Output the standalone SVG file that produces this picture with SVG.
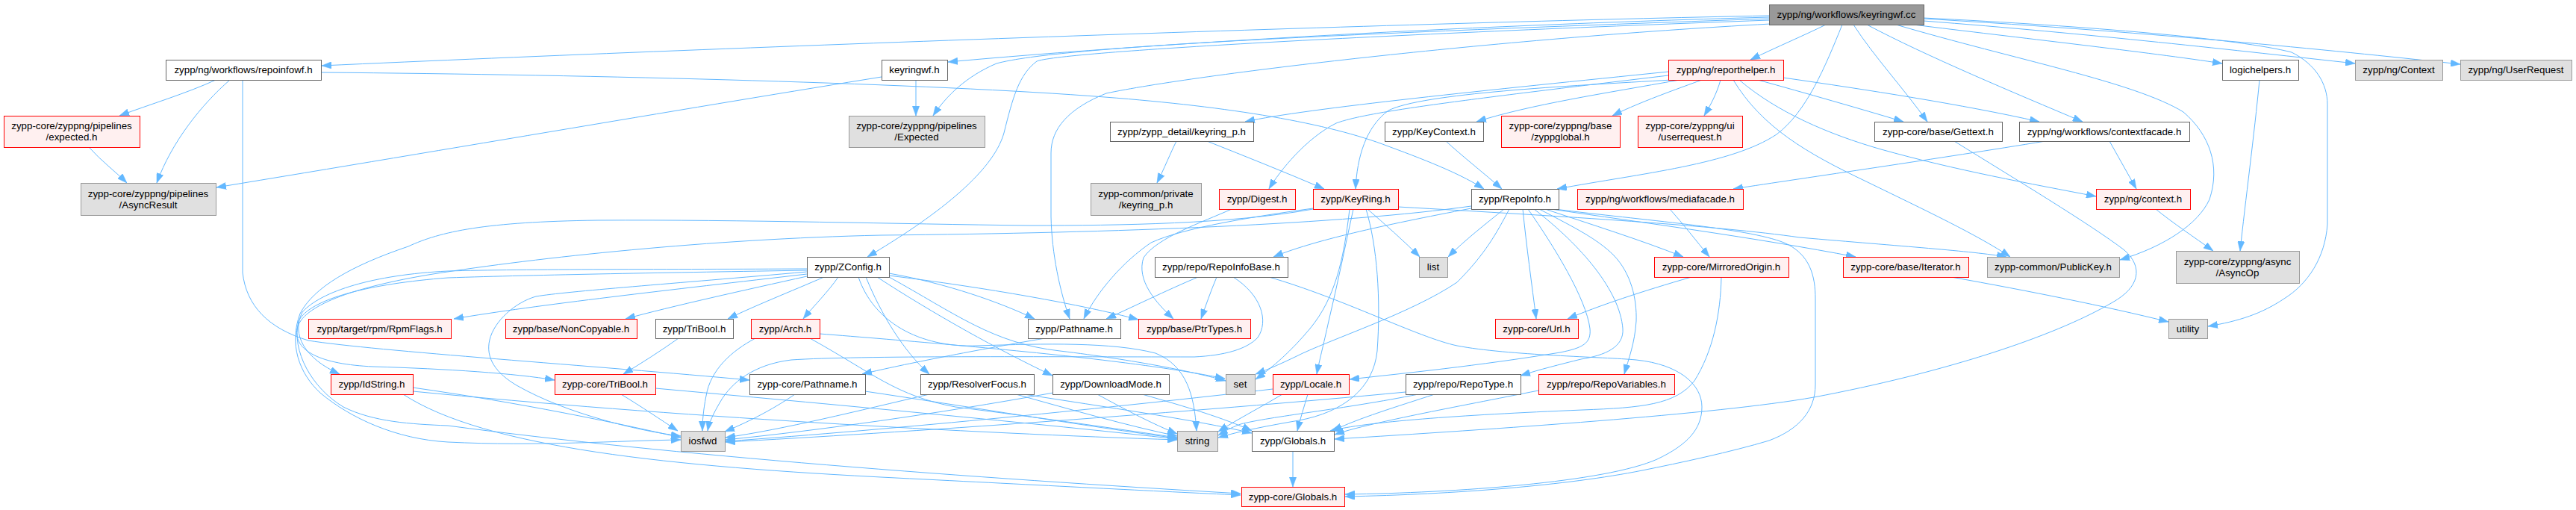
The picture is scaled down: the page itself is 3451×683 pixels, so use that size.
<svg xmlns="http://www.w3.org/2000/svg" width="3451" height="683" viewBox="0 0 3451 683">
<style>
.bg{fill:#ffffff}
.node rect{stroke-width:1}
.n rect{fill:#ffffff;stroke:#666666}
.r rect{fill:#fff0f0;stroke:#ff0000}
.g rect{fill:#e0e0e0;stroke:#999999}
.root rect{fill:#999999;stroke:#666666}
.node text{font-family:"Liberation Sans",Arial,Helvetica,sans-serif;font-size:13.33px;fill:#000000;text-anchor:middle}
#edges path{fill:none;stroke:#63b8ff;stroke-width:1;marker-end:url(#ah)}
</style>
<defs>
<marker id="ah" viewBox="0 0 13 9.4" refX="13" refY="4.7" markerWidth="13" markerHeight="9.4" markerUnits="userSpaceOnUse" orient="auto">
<path d="M0,0 L13,4.7 L0,9.4 z" fill="#63b8ff" stroke="#63b8ff" stroke-width="0.5"/>
</marker>
</defs>
<rect class="bg" x="0" y="0" width="3451" height="683"/>
<g id="edges">
<path d="M2370,21 C1900,30 1000,62 431,88"/>
<path d="M2370,23 C1900,36 1500,62 1270,83"/>
<path d="M2370,25 C1800,45 1420,62 1335,85 C1295,102 1268,128 1250,155"/>
<path d="M2370,27 C1800,48 1420,70 1389,82 C1365,100 1357,130 1345,178 C1330,232 1250,292 1162,344"/>
<path d="M2372,32 C2000,52 1600,100 1482,125 C1432,145 1408,172 1408,205 L1408,290 C1409,340 1420,390 1433,427"/>
<path d="M2446,33 C2420,46 2380,63 2345,80"/>
<path d="M2468,33 C2445,90 2420,150 2380,180 C2320,220 2200,232 2086,253"/>
<path d="M2483,33 C2510,75 2550,118 2582,163"/>
<path d="M2501,33 C2580,75 2700,125 2790,163"/>
<path d="M2563,33 C2700,50 2880,70 2977,85"/>
<path d="M2577,28 C2800,45 3000,68 3155,85"/>
<path d="M2577,25 C2900,44 3150,70 3296,86"/>
<path d="M2577,24 C2800,35 3000,52 3070,70 C3102,86 3118,112 3118,140 L3118,300 C3115,345 3092,380 3060,400 C3030,420 3000,430 2958,437"/>
<path d="M2540,33 C2700,80 2860,110 2925,150 C2960,180 2975,222 2960,267 C2945,300 2900,330 2840,348"/>
<path d="M289,107 C250,125 200,140 160,155"/>
<path d="M308,107 C270,140 230,190 210,245"/>
<path d="M430,97 C800,100 1250,112 1480,130 C1650,143 1780,165 1860,196 C1920,218 1960,235 1988,253"/>
<path d="M325,107 L325,365 C330,410 360,440 413,456 C500,470 800,490 1004,509"/>
<path d="M120,198 C135,215 155,230 170,245"/>
<path d="M1227,107 L1227,155"/>
<path d="M1181,103 C950,140 600,200 290,251"/>
<path d="M2235,96 C2000,120 1750,145 1668,163"/>
<path d="M2240,107 C2100,115 1905,125 1860,148 C1830,170 1818,210 1816,253"/>
<path d="M2235,101 C1950,135 1830,150 1790,165 C1750,185 1715,228 1700,253"/>
<path d="M2250,107 C2150,125 2050,140 1978,163"/>
<path d="M2280,107 C2230,125 2190,140 2160,155"/>
<path d="M2305,107 C2300,125 2292,140 2283,155"/>
<path d="M2355,107 C2420,125 2490,145 2550,163"/>
<path d="M2389,104 C2500,120 2630,140 2732,163"/>
<path d="M2330,107 C2380,150 2450,180 2520,200 C2620,228 2720,246 2808,263"/>
<path d="M2322,107 C2360,170 2420,205 2500,243 C2580,282 2650,315 2693,344"/>
<path d="M1576,189 C1568,205 1560,225 1550,245"/>
<path d="M1617,189 C1670,210 1720,230 1774,253"/>
<path d="M1937,189 C1960,210 1988,232 2012,253"/>
<path d="M2740,189 C2600,212 2420,238 2322,253"/>
<path d="M2826,189 C2838,210 2850,232 2862,253"/>
<path d="M2888,280 C2910,298 2940,318 2965,336"/>
<path d="M3027,107 C3020,180 3008,270 3001,336"/>
<path d="M2618,189 C2700,240 2800,300 2846,335 C2872,358 2866,385 2830,405 C2750,452 2600,500 2430,532 C2300,555 2000,575 1788,588"/>
<path d="M2237,280 C2255,300 2272,322 2290,344"/>
<path d="M1650,280 C1610,298 1550,318 1532,345 C1522,375 1548,405 1572,427"/>
<path d="M1832,280 C1855,300 1880,322 1902,344"/>
<path d="M1813,280 C1802,330 1792,380 1780,430 C1773,462 1767,485 1764,501"/>
<path d="M1808,280 C1800,350 1788,400 1755,440 C1730,470 1705,492 1682,508"/>
<path d="M1830,280 C1845,330 1850,400 1845,470 C1840,520 1800,552 1740,563 C1700,570 1662,577 1632,586"/>
<path d="M1759,279 C1680,290 1585,305 1542,325 C1505,350 1470,390 1452,427"/>
<path d="M1873,277 C2100,290 2300,302 2411,318 C2550,330 2640,336 2688,344"/>
<path d="M1759,280 C1650,300 1500,302 1380,302 C1200,300 1000,294 800,295 C650,297 590,310 547,330 C470,356 420,385 402,420 C387,460 400,500 430,527 C470,560 530,588 600,592 C720,598 830,590 912,589"/>
<path d="M2015,280 C1990,300 1962,322 1940,344"/>
<path d="M2022,280 C2005,312 1990,340 1952,378 C1890,420 1780,455 1735,478 C1710,490 1695,496 1682,501"/>
<path d="M2040,280 C2045,330 2052,380 2058,427"/>
<path d="M2047,280 C2082,330 2125,400 2130,440 C2132,460 2120,466 2090,472 C1980,490 1880,500 1808,508"/>
<path d="M2055,280 C2120,330 2170,390 2174,440 C2176,465 2150,476 2118,481 C2090,488 2062,495 2037,503"/>
<path d="M2062,280 C2110,305 2140,320 2162,342 C2185,366 2193,400 2192,430 C2190,460 2182,480 2176,501"/>
<path d="M2070,280 C2130,300 2200,322 2255,344"/>
<path d="M2078,280 C2200,298 2350,318 2486,344"/>
<path d="M2083,280 C2200,295 2340,305 2390,325 C2425,340 2432,370 2432,400 L2432,515 C2432,550 2410,575 2370,590 C2320,605 2250,620 2200,630 C2100,650 1950,662 1802,665"/>
<path d="M1971,279 C1850,302 1760,322 1706,344"/>
<path d="M1971,276 C1800,300 1500,312 1180,315 C950,320 720,345 580,367 C470,385 405,410 398,440 C393,470 430,488 500,491 C600,494 690,500 743,509"/>
<path d="M2266,371 C2200,390 2140,410 2100,427"/>
<path d="M2306,371 C2305,420 2295,470 2270,510 C2245,542 2200,546 2120,549 C1950,556 1830,565 1782,577"/>
<path d="M2614,371 C2720,390 2820,410 2905,431"/>
<path d="M1605,371 C1560,390 1520,410 1482,427"/>
<path d="M1630,371 C1622,390 1615,410 1609,427"/>
<path d="M1652,371 C1690,395 1700,430 1685,452 C1670,468 1640,476 1600,478 C1400,478 1150,476 1060,482 C1010,488 980,512 965,538 C955,555 950,566 948,577"/>
<path d="M1700,371 C1800,400 1900,452 1952,463 C2020,476 2150,478 2192,482 C2250,488 2280,515 2280,545 C2280,575 2260,596 2220,615 C2150,646 1950,660 1802,662"/>
<path d="M1081,367 C900,388 720,408 608,427"/>
<path d="M1081,370 C1000,388 900,410 838,427"/>
<path d="M1104,371 C1060,390 1010,410 975,427"/>
<path d="M1123,371 C1110,390 1090,410 1076,427"/>
<path d="M1081,360 C900,361 700,360 600,363 C500,368 430,390 405,418 C390,448 408,480 455,501"/>
<path d="M1081,364 C900,380 760,390 718,397 C690,405 662,430 656,455 C650,480 665,500 692,516 C760,555 860,578 912,584"/>
<path d="M1191,366 C1270,380 1340,405 1386,427"/>
<path d="M1191,369 C1320,385 1450,408 1525,428"/>
<path d="M1160,371 C1180,420 1210,470 1245,501"/>
<path d="M1175,371 C1250,420 1340,470 1410,503"/>
<path d="M1191,371 C1280,420 1330,460 1420,470 C1520,482 1600,498 1642,510"/>
<path d="M1150,371 C1170,430 1230,466 1310,463 C1400,460 1490,458 1548,473 C1590,490 1600,530 1603,577"/>
<path d="M1081,362 C900,365 720,368 600,372 C495,380 415,400 400,430 C390,470 418,520 460,545 C500,565 550,568 600,570 C900,610 1300,640 1662,661"/>
<path d="M909,453 C885,470 860,486 835,501"/>
<path d="M832,528 C860,545 885,562 908,577"/>
<path d="M878,520 C1100,540 1400,568 1577,588"/>
<path d="M1012,453 C980,470 952,495 946,530 C942,550 941,565 941,577"/>
<path d="M1085,453 C1170,500 1200,530 1280,545 C1400,560 1500,575 1577,586"/>
<path d="M1098,447 C1200,455 1382,470 1500,485 C1580,495 1620,503 1641,507"/>
<path d="M1065,528 C1040,545 1010,562 971,578"/>
<path d="M1159,524 C1300,545 1450,570 1577,587"/>
<path d="M1245,528 C1150,550 1050,575 972,586"/>
<path d="M1361,528 C1440,550 1510,570 1577,584"/>
<path d="M1372,528 C1480,545 1600,562 1677,580"/>
<path d="M1411,526 C1250,555 1100,576 972,589"/>
<path d="M1470,528 C1510,550 1545,568 1577,581"/>
<path d="M1530,528 C1590,545 1640,560 1677,577"/>
<path d="M1400,453 C1300,470 1200,490 1155,501"/>
<path d="M1705,521 C1500,545 1200,575 972,591"/>
<path d="M1718,528 C1690,545 1660,560 1632,578"/>
<path d="M1752,528 C1747,545 1742,560 1738,577"/>
<path d="M1732,603 L1732,652"/>
<path d="M1883,525 C1600,552 1200,580 972,592"/>
<path d="M1922,528 C1870,545 1820,560 1785,577"/>
<path d="M1900,528 C1800,548 1700,558 1662,568 C1648,573 1640,578 1632,583"/>
<path d="M2061,523 C1950,545 1830,567 1788,582"/>
<path d="M553,519 C700,540 820,565 912,586"/>
<path d="M553,524 C900,558 1300,580 1577,589"/>
<path d="M540,528 C650,600 900,625 1200,640 C1400,650 1550,658 1662,663"/>
</g>
<g id="n_cc" class="node root"><rect x="2370.5" y="6.5" width="207" height="27"/><text x="2473.5" y="24.2">zypp/ng/workflows/keyringwf.cc</text></g>
<g id="n_repoinfowf" class="node n"><rect x="222.5" y="80.5" width="208" height="27"/><text x="326" y="98.2">zypp/ng/workflows/repoinfowf.h</text></g>
<g id="n_expected" class="node r"><rect x="5.5" y="155.5" width="182" height="42"/><text x="96" y="173.2">zypp-core/zyppng/pipelines</text><text x="96" y="188.2">/expected.h</text></g>
<g id="n_asyncresult" class="node g"><rect x="108.5" y="245.5" width="181" height="43"/><text x="198.5" y="263.7">zypp-core/zyppng/pipelines</text><text x="198.5" y="278.7">/AsyncResult</text></g>
<g id="n_rpmflags" class="node r"><rect x="413.5" y="427.5" width="191" height="26"/><text x="508.5" y="444.7">zypp/target/rpm/RpmFlags.h</text></g>
<g id="n_idstring" class="node r"><rect x="443.5" y="501.5" width="110" height="27"/><text x="498" y="519.2">zypp/IdString.h</text></g>
<g id="n_zconfig" class="node n"><rect x="1081.5" y="344.5" width="110" height="27"/><text x="1136" y="362.2">zypp/ZConfig.h</text></g>
<g id="n_noncopyable" class="node r"><rect x="677.5" y="427.5" width="176" height="26"/><text x="765" y="444.7">zypp/base/NonCopyable.h</text></g>
<g id="n_tribool" class="node n"><rect x="878.5" y="427.5" width="104" height="26"/><text x="930" y="444.7">zypp/TriBool.h</text></g>
<g id="n_arch" class="node r"><rect x="1006.5" y="427.5" width="92" height="26"/><text x="1052" y="444.7">zypp/Arch.h</text></g>
<g id="n_coretribool" class="node r"><rect x="743.5" y="501.5" width="135" height="27"/><text x="810.5" y="519.2">zypp-core/TriBool.h</text></g>
<g id="n_corepathname" class="node n"><rect x="1004.5" y="501.5" width="155" height="27"/><text x="1081.5" y="519.2">zypp-core/Pathname.h</text></g>
<g id="n_iosfwd" class="node g"><rect x="912.5" y="577.5" width="59" height="27"/><text x="941.5" y="595.2">iosfwd</text></g>
<g id="n_keyringwfh" class="node n"><rect x="1181.5" y="80.5" width="88" height="27"/><text x="1225" y="98.2">keyringwf.h</text></g>
<g id="n_Expected" class="node g"><rect x="1137.5" y="155.5" width="182" height="42"/><text x="1228" y="173.2">zypp-core/zyppng/pipelines</text><text x="1228" y="188.2">/Expected</text></g>
<g id="n_keyringp" class="node n"><rect x="1487.5" y="163.5" width="192" height="26"/><text x="1583" y="180.7">zypp/zypp_detail/keyring_p.h</text></g>
<g id="n_privkeyring" class="node g"><rect x="1461.5" y="245.5" width="148" height="43"/><text x="1535" y="263.7">zypp-common/private</text><text x="1535" y="278.7">/keyring_p.h</text></g>
<g id="n_digest" class="node r"><rect x="1633.5" y="253.5" width="102" height="27"/><text x="1684" y="271.2">zypp/Digest.h</text></g>
<g id="n_pathname" class="node n"><rect x="1377.5" y="427.5" width="124" height="26"/><text x="1439" y="444.7">zypp/Pathname.h</text></g>
<g id="n_ptrtypes" class="node r"><rect x="1525.5" y="427.5" width="150" height="26"/><text x="1600" y="444.7">zypp/base/PtrTypes.h</text></g>
<g id="n_repoinfobase" class="node n"><rect x="1547.5" y="344.5" width="178" height="27"/><text x="1636" y="362.2">zypp/repo/RepoInfoBase.h</text></g>
<g id="n_resolverfocus" class="node n"><rect x="1233.5" y="501.5" width="152" height="27"/><text x="1309" y="519.2">zypp/ResolverFocus.h</text></g>
<g id="n_downloadmode" class="node n"><rect x="1410.5" y="501.5" width="156" height="27"/><text x="1488" y="519.2">zypp/DownloadMode.h</text></g>
<g id="n_set" class="node g"><rect x="1642.5" y="501.5" width="39" height="27"/><text x="1661.5" y="519.2">set</text></g>
<g id="n_locale" class="node r"><rect x="1705.5" y="501.5" width="102" height="27"/><text x="1756" y="519.2">zypp/Locale.h</text></g>
<g id="n_string" class="node g"><rect x="1577.5" y="577.5" width="54" height="27"/><text x="1604" y="595.2">string</text></g>
<g id="n_globals" class="node n"><rect x="1677.5" y="577.5" width="110" height="27"/><text x="1732" y="595.2">zypp/Globals.h</text></g>
<g id="n_coreglobals" class="node r"><rect x="1663.5" y="652.5" width="138" height="26"/><text x="1732" y="669.7">zypp-core/Globals.h</text></g>
<g id="n_reporthelper" class="node r"><rect x="2235.5" y="80.5" width="154" height="27"/><text x="2312" y="98.2">zypp/ng/reporthelper.h</text></g>
<g id="n_keycontext" class="node n"><rect x="1855.5" y="163.5" width="132" height="26"/><text x="1921" y="180.7">zypp/KeyContext.h</text></g>
<g id="n_zyppglobal" class="node r"><rect x="2011.5" y="155.5" width="159" height="42"/><text x="2090.5" y="173.2">zypp-core/zyppng/base</text><text x="2090.5" y="188.2">/zyppglobal.h</text></g>
<g id="n_userrequest" class="node r"><rect x="2194.5" y="155.5" width="140" height="42"/><text x="2264" y="173.2">zypp-core/zyppng/ui</text><text x="2264" y="188.2">/userrequest.h</text></g>
<g id="n_keyring" class="node r"><rect x="1759.5" y="253.5" width="114" height="27"/><text x="1816" y="271.2">zypp/KeyRing.h</text></g>
<g id="n_repoinfo" class="node n"><rect x="1971.5" y="253.5" width="117" height="27"/><text x="2029.5" y="271.2">zypp/RepoInfo.h</text></g>
<g id="n_mediafacade" class="node r"><rect x="2113.5" y="253.5" width="222" height="27"/><text x="2224" y="271.2">zypp/ng/workflows/mediafacade.h</text></g>
<g id="n_list" class="node g"><rect x="1901.5" y="344.5" width="38" height="27"/><text x="1920" y="362.2">list</text></g>
<g id="n_mirrored" class="node r"><rect x="2216.5" y="344.5" width="180" height="27"/><text x="2306" y="362.2">zypp-core/MirroredOrigin.h</text></g>
<g id="n_url" class="node r"><rect x="2003.5" y="427.5" width="111" height="26"/><text x="2058.5" y="444.7">zypp-core/Url.h</text></g>
<g id="n_repotype" class="node n"><rect x="1883.5" y="501.5" width="154" height="27"/><text x="1960" y="519.2">zypp/repo/RepoType.h</text></g>
<g id="n_repovariables" class="node r"><rect x="2061.5" y="501.5" width="182" height="27"/><text x="2152" y="519.2">zypp/repo/RepoVariables.h</text></g>
<g id="n_gettext" class="node n"><rect x="2511.5" y="163.5" width="171" height="26"/><text x="2596.5" y="180.7">zypp-core/base/Gettext.h</text></g>
<g id="n_contextfacade" class="node n"><rect x="2705.5" y="163.5" width="228" height="26"/><text x="2819" y="180.7">zypp/ng/workflows/contextfacade.h</text></g>
<g id="n_ngcontext" class="node r"><rect x="2808.5" y="253.5" width="126" height="27"/><text x="2871" y="271.2">zypp/ng/context.h</text></g>
<g id="n_iterator" class="node r"><rect x="2469.5" y="344.5" width="168" height="27"/><text x="2553" y="362.2">zypp-core/base/Iterator.h</text></g>
<g id="n_publickey" class="node g"><rect x="2662.5" y="344.5" width="177" height="27"/><text x="2750.5" y="362.2">zypp-common/PublicKey.h</text></g>
<g id="n_logichelpers" class="node n"><rect x="2977.5" y="80.5" width="102" height="27"/><text x="3028" y="98.2">logichelpers.h</text></g>
<g id="n_Context" class="node g"><rect x="3155.5" y="80.5" width="117" height="27"/><text x="3213.5" y="98.2">zypp/ng/Context</text></g>
<g id="n_UserRequest" class="node g"><rect x="3296.5" y="80.5" width="149" height="27"/><text x="3370.5" y="98.2">zypp/ng/UserRequest</text></g>
<g id="n_asyncop" class="node g"><rect x="2915.5" y="336.5" width="165" height="43"/><text x="2997.5" y="354.7">zypp-core/zyppng/async</text><text x="2997.5" y="369.7">/AsyncOp</text></g>
<g id="n_utility" class="node g"><rect x="2905.5" y="427.5" width="52" height="26"/><text x="2931" y="444.7">utility</text></g>
</svg>
